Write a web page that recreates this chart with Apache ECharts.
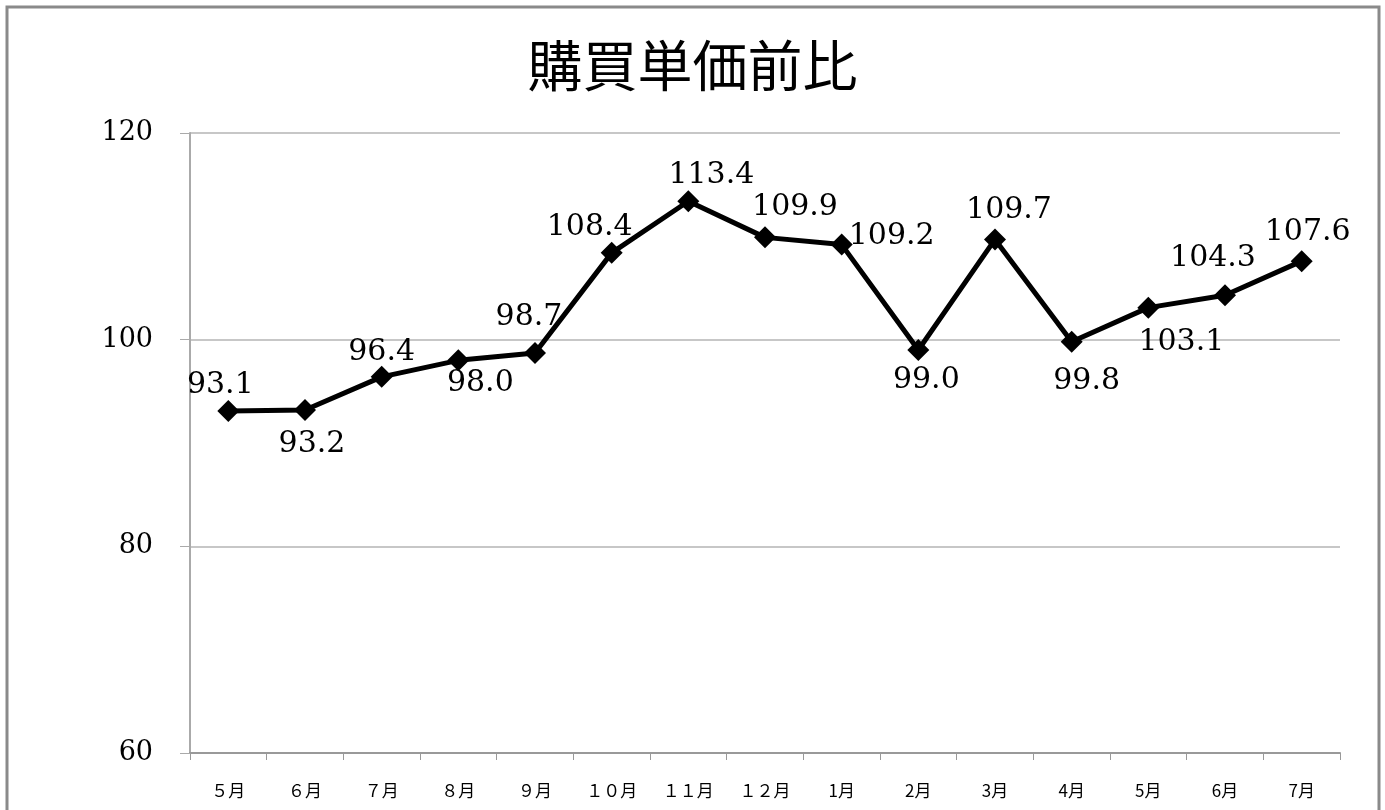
<html>
<head>
<meta charset="utf-8">
<script src="https://cdn.jsdelivr.net/npm/echarts@6/dist/echarts.min.js"></script>
<style>
	body { margin: 0; background: #fff; }
</style>
</head>
<body>
<div id="chart-main" style="width:1385px;height:810px;"></div>

<script type="text/javascript">
	// 月（横軸）
	var months = ['５月', '６月', '７月', '８月', '９月', '１０月', '１１月', '１２月', '1月', '2月', '3月', '4月', '5月', '6月', '7月'];
	// 購買単価前比
	var values = [93.1, 93.2, 96.4, 98.0, 98.7, 108.4, 113.4, 109.9, 109.2, 99.0, 109.7, 99.8, 103.1, 104.3, 107.6];

	// ラベルのずらし量（点の中心から）
	var labelShift = [[-8, -26], [7, 34], [0, -25], [22, 23], [-6, -36], [-22, -26], [23, -26], [30, -30],
		[50, -8], [8, 30], [14, -29], [15, 39], [33, 35], [-12, -37], [6, -29]];

	var serif = '"DejaVu Serif", "Liberation Serif", serif';

	var myChart = echarts.init(document.getElementById('chart-main'));
	var option = {
		backgroundColor: '#fff',
		animation: false,
		title: {
			text: '購買単価前比',
			left: 'center',
			top: 33,
			textStyle: {
				fontFamily: '"Noto Sans CJK JP", serif',
				fontWeight: 'normal',
				fontSize: 55,
				color: '#000'
			}
		},
		graphic: [{
			type: 'rect',
			shape: { x: 7, y: 7, width: 1372, height: 840 },
			style: { fill: 'none', stroke: '#8a8a8a', lineWidth: 3 },
			silent: true
		}],
		grid: { left: 190, right: 45, top: 133, bottom: 57 },
		xAxis: {
			type: 'category',
			data: months,
			boundaryGap: true,
			axisLine: { lineStyle: { color: '#999', width: 2 } },
			axisTick: { show: true, length: 7, lineStyle: { color: '#999' } },
			axisLabel: {
				margin: 29,
				fontFamily: '"Noto Sans CJK JP", sans-serif',
				fontSize: 17,
				color: '#000'
			}
		},
		yAxis: {
			type: 'value',
			min: 60,
			max: 120,
			interval: 20,
			axisLine: { show: true, lineStyle: { color: '#aaa', width: 2 } },
			axisTick: { show: true, length: 10, lineStyle: { color: '#aaa' } },
			splitLine: { lineStyle: { color: '#b5b5b5', width: 1.5 } },
			axisLabel: {
				margin: 37,
				padding: [4, 0, 0, 0],
				fontFamily: serif,
				fontSize: 27,
				color: '#000'
			}
		},
		series: [{
			type: 'line',
			data: values.map(function (v, i) {
				return { value: v, label: { offset: labelShift[i] } };
			}),
			symbol: 'diamond',
			symbolSize: 22,
			itemStyle: { color: '#000' },
			lineStyle: { color: '#000', width: 5 },
			z: 3,
			label: {
				show: true,
				position: 'inside',
				align: 'center',
				verticalAlign: 'middle',
				formatter: function (p) { return p.value.toFixed(1); },
				fontFamily: serif,
				fontSize: 30,
				color: '#000'
			}
		}]
	};
	myChart.setOption(option);
</script>
</body>
</html>
